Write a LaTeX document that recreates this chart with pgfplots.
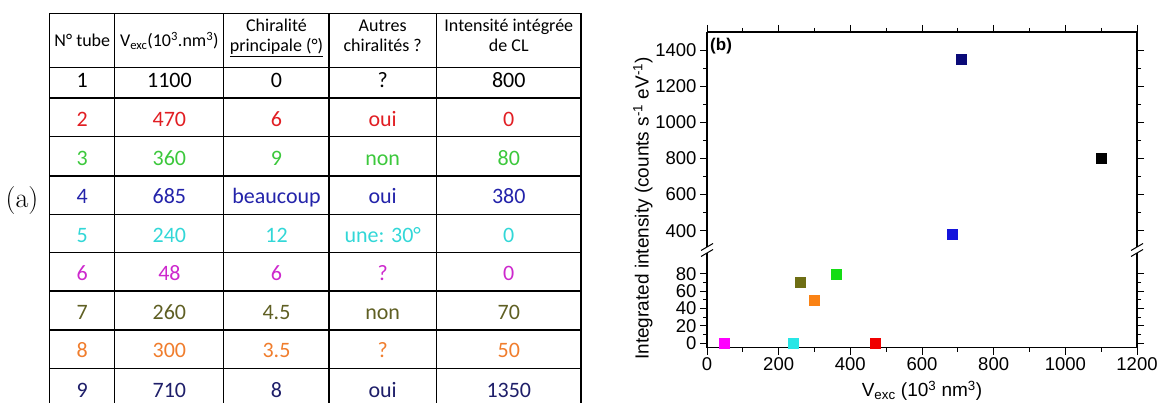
\documentclass[border=0pt]{standalone}
\usepackage{fontspec}
\usepackage{pgfplots}
\pgfplotsset{compat=1.18}
\newfontfamily\calibri{Carlito}
\newfontfamily\arial{Liberation Sans}
\definecolor{tred}{RGB}{225,30,35}
\definecolor{tgreen}{RGB}{60,200,60}
\definecolor{tblue}{RGB}{35,35,170}
\definecolor{tcyan}{RGB}{50,215,215}
\definecolor{tmag}{RGB}{205,40,205}
\definecolor{tolive}{RGB}{95,95,35}
\definecolor{torange}{RGB}{240,125,45}
\definecolor{tnavy}{RGB}{30,30,105}
\definecolor{pmag}{RGB}{255,0,255}
\definecolor{pcyan}{RGB}{40,230,230}
\definecolor{pred}{RGB}{240,0,0}
\definecolor{polive}{RGB}{110,110,20}
\definecolor{porange}{RGB}{250,130,20}
\definecolor{pgreen}{RGB}{20,220,20}
\definecolor{pblue}{RGB}{20,20,220}
\definecolor{pnavy}{RGB}{10,10,120}
\pgfplotsset{
  every non boxed x axis/.style={},
  every non boxed y axis/.style={},
  brk/.style={
    scale only axis, width=430pt, xmin=0, xmax=1200,
    enlarge x limits=false, enlarge y limits=false,
    tick align=outside, major tick length=7pt, minor tick length=4pt,
    axis line style={line width=1.1pt,-},
    every tick/.style={black,line width=1pt},
    tick label style={font=\arial\fontsize{18.5}{20}\selectfont},
    /pgf/number format/assume math mode=true,
    /pgf/number format/1000 sep={},
    xtick={0,200,...,1200}, minor x tick num=1,
    minor y tick num=1, clip=false,
  },
  pt/.style={only marks, mark=square*, mark size=5pt, mark options={draw=#1,fill=#1}},
}
\newcommand\trow[7]{%
  \begin{scope}[every node/.style={anchor=base, text=#2, inner sep=0pt, font=\calibri\fontsize{22}{24}\selectfont}]
    \node at (82.3,#1) {#3};
    \node at (169.4,#1) {#4};
    \node at (276.5,#1) {#5};
    \node at (382.7,#1) {#6};
    \node at (508.8,#1) {#7};
  \end{scope}}
\begin{document}
\begin{tikzpicture}[x=1pt,y=1pt]
\useasboundingbox (0,0) rectangle (1158,402);
% ---------------- table (a)
\node[font=\fontsize{28}{30}\selectfont, inner sep=0pt] at (22,201) {(a)};
\begin{scope}[line width=1.1pt]
  \foreach \xx in {49.7,114.8,223.9,329,436.5,581} \draw (\xx,388.7) -- (\xx,-5);
  \foreach \yy in {388.7,334.5,265.3,226,187.7,149.3,111,72,33.7} \draw (49.7,\yy) -- (581,\yy);
  \draw[line width=2pt] (49.7,304.3) -- (581,304.3);
\end{scope}
\begin{scope}[every node/.style={anchor=base, inner sep=0pt, font=\calibri\fontsize{18}{20}\selectfont}]
  \node at (82.3,355.3) {N° tube};
  \node at (169.4,355.3) {V\textsubscript{exc}(10\textsuperscript{3}.nm\textsuperscript{3})};
  \node at (276.5,370.5) {Chiralité};
  \node at (276.5,350) {\underline{principale (°)}};
  \node at (382.7,370.5) {Autres};
  \node at (382.7,350) {chiralités ?};
  \node at (508.8,370.5) {Intensité intégrée};
  \node at (508.8,350) {de CL};
\end{scope}
\trow{314.5}{black}{1}{1100}{0}{?}{800}
\trow{275.2}{tred}{2}{470}{6}{oui}{0}
\trow{236.9}{tgreen}{3}{360}{9}{non}{80}
\trow{198.5}{tblue}{4}{685}{beaucoup}{oui}{380}
\trow{159.4}{tcyan}{5}{240}{12}{une: 30°}{0}
\trow{121.2}{tmag}{6}{48}{6}{?}{0}
\trow{82.9}{tolive}{7}{260}{4.5}{non}{70}
\trow{44.5}{torange}{8}{300}{3.5}{?}{50}
\trow{4.9}{tnavy}{9}{710}{8}{oui}{1350}
% ---------------- plot (b): upper part
\begin{axis}[brk, at={(707pt,155pt)}, anchor=south west, height=215pt,
  axis x line*=top, axis y line*=box,
  x axis line style={-}, y axis line style={-}, tick align=outside,
  ymin=310, ymax=1500, ytick={400,600,...,1400}, xticklabels={}]
  \addplot[pt=pblue] coordinates {(685,380)};
  \addplot[pt=pnavy] coordinates {(710,1350)};
  \addplot[pt=black] coordinates {(1100,800)};
\end{axis}
% ---------------- plot (b): lower part
\begin{axis}[brk, at={(707pt,54.5pt)}, anchor=south west, height=94.5pt,
  axis x line*=bottom, axis y line*=box,
  x axis line style={-}, y axis line style={-}, tick align=outside,
  ymin=-5, ymax=104, ytick={0,20,...,80}]
  \addplot[pt=pmag] coordinates {(48,0)};
  \addplot[pt=pcyan] coordinates {(240,0)};
  \addplot[pt=pred] coordinates {(470,0)};
  \addplot[pt=polive] coordinates {(260,70)};
  \addplot[pt=porange] coordinates {(300,50)};
  \addplot[pt=pgreen] coordinates {(360,80)};
\end{axis}
% axis-break marks
\begin{scope}[line width=1pt]
  \foreach \xx in {707,1137} {
    \draw (\xx-6,151.5) -- (\xx+6,158.5);
    \draw (\xx-6,145.5) -- (\xx+6,152.5);
  }
\end{scope}
\node[anchor=north west, inner sep=0pt, font=\arial\bfseries\fontsize{17}{19}\selectfont] at (710,364) {(b)};
\node[rotate=90, inner sep=0pt, font=\arial\fontsize{19}{21}\selectfont] at (643,193.5)
  {Integrated intensity (counts s\textsuperscript{-1} eV\textsuperscript{-1})};
\node[anchor=base, inner sep=0pt, font=\arial\fontsize{19}{21}\selectfont] at (922,5.5)
  {V\textsubscript{exc} (10\textsuperscript{3} nm\textsuperscript{3})};
\end{tikzpicture}
\end{document}
